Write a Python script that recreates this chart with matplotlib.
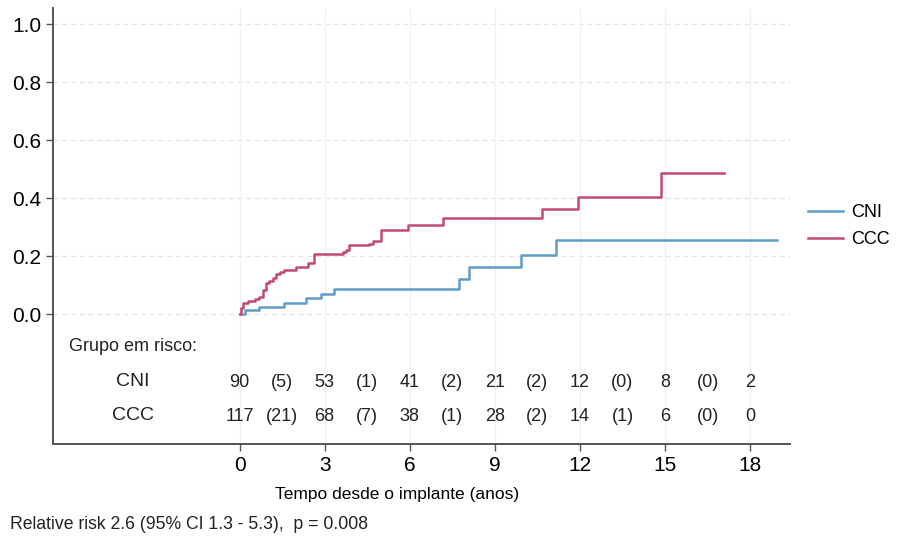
import matplotlib
matplotlib.use('Agg')
import matplotlib.pyplot as plt
import numpy as np

plt.rcParams['font.family'] = 'Liberation Sans'

# cumulative incidence step curves (time in years, value)
cni_t = [0, 0.18, 0.70, 1.58, 2.34, 2.87, 3.34, 7.75, 8.10, 9.92, 11.17, 18.95]
cni_y = [0, 0.014, 0.025, 0.039, 0.056, 0.071, 0.088, 0.123, 0.163, 0.203, 0.257, 0.257]
ccc_t = [0, 0.05, 0.12, 0.30, 0.55, 0.70, 0.82, 0.94, 1.05, 1.17, 1.30, 1.41, 1.58, 2.00, 2.41,
         2.64, 3.64, 3.76, 3.87, 4.58, 4.69, 4.99, 5.93, 7.16, 10.66, 11.95, 14.85, 17.08]
ccc_y = [0, 0.02, 0.037, 0.047, 0.052, 0.06, 0.083, 0.106, 0.115, 0.125, 0.138, 0.145, 0.152,
         0.163, 0.175, 0.209, 0.215, 0.222, 0.238, 0.242, 0.252, 0.29, 0.307, 0.33, 0.361, 0.405,
         0.487, 0.487]

# number at risk (events in parentheses), every 1.5 years
risk_x = [0, 1.5, 3, 4.5, 6, 7.5, 9, 10.5, 12, 13.5, 15, 16.5, 18]
risk_cni = ['90', '(5)', '53', '(1)', '41', '(2)', '21', '(2)', '12', '(0)', '8', '(0)', '2']
risk_ccc = ['117', '(21)', '68', '(7)', '38', '(1)', '28', '(2)', '14', '(1)', '6', '(0)', '0']

blue = '#5f9cc8'
red = '#c24a74'
txt = '#222222'

fig = plt.figure(figsize=(9.12, 5.45), dpi=100)
ax = fig.add_axes([0.058, 0.185, 0.808, 0.80])

ax.step(cni_t, cni_y, where='post', color=blue, lw=1.8, label='CNI')
ax.step(ccc_t, ccc_y, where='post', color=red, lw=1.8, label='CCC')

ax.set_xlim(-6.58, 19.4)
ax.set_ylim(-0.448, 1.055)

ax.set_yticks(np.arange(0, 1.01, 0.2))
ax.set_yticklabels(['%.1f' % v for v in np.arange(0, 1.01, 0.2)])
ax.set_xticks(range(0, 19, 3))
ax.tick_params(axis='both', labelsize=15, length=5, width=1, color='#555555')

for y in np.arange(0, 1.01, 0.2):
    ax.axhline(y, color='#e4e4e4', lw=0.9, ls=(0, (4, 3)), zorder=0)
for x in range(0, 19, 3):
    ax.axvline(x, color='#f1f1f1', lw=0.9, zorder=0)

for s in ['top', 'right']:
    ax.spines[s].set_visible(False)
for s in ['left', 'bottom']:
    ax.spines[s].set_color('#555555')
    ax.spines[s].set_linewidth(1.4)

# risk table
ax.text(-6.02, -0.110, 'Grupo em risco:', fontsize=13, ha='left', va='center', color=txt)
ax.text(-3.77, -0.231, 'CNI', fontsize=14, ha='center', va='center', color=txt)
ax.text(-3.77, -0.348, 'CCC', fontsize=14, ha='center', va='center', color=txt)
for x, a, b in zip(risk_x, risk_cni, risk_ccc):
    ax.text(x, -0.236, a, fontsize=13, ha='center', va='center', color=txt)
    ax.text(x, -0.352, b, fontsize=13, ha='center', va='center', color=txt)

ax.set_xlabel('Tempo desde o implante (anos)', fontsize=12.5)
ax.xaxis.set_label_coords(0.467, -0.098)

ax.legend(loc='center left', bbox_to_anchor=(1.025, 0.5), frameon=False,
          fontsize=13, handlelength=1.9, handletextpad=0.45, labelspacing=0.55,
          borderaxespad=0, borderpad=0)

fig.text(0.011, 0.038, 'Relative risk 2.6 (95% CI 1.3 - 5.3),  p = 0.008',
         fontsize=12.7, ha='left', va='center', color=txt)

plt.savefig('out.png', dpi=100)
